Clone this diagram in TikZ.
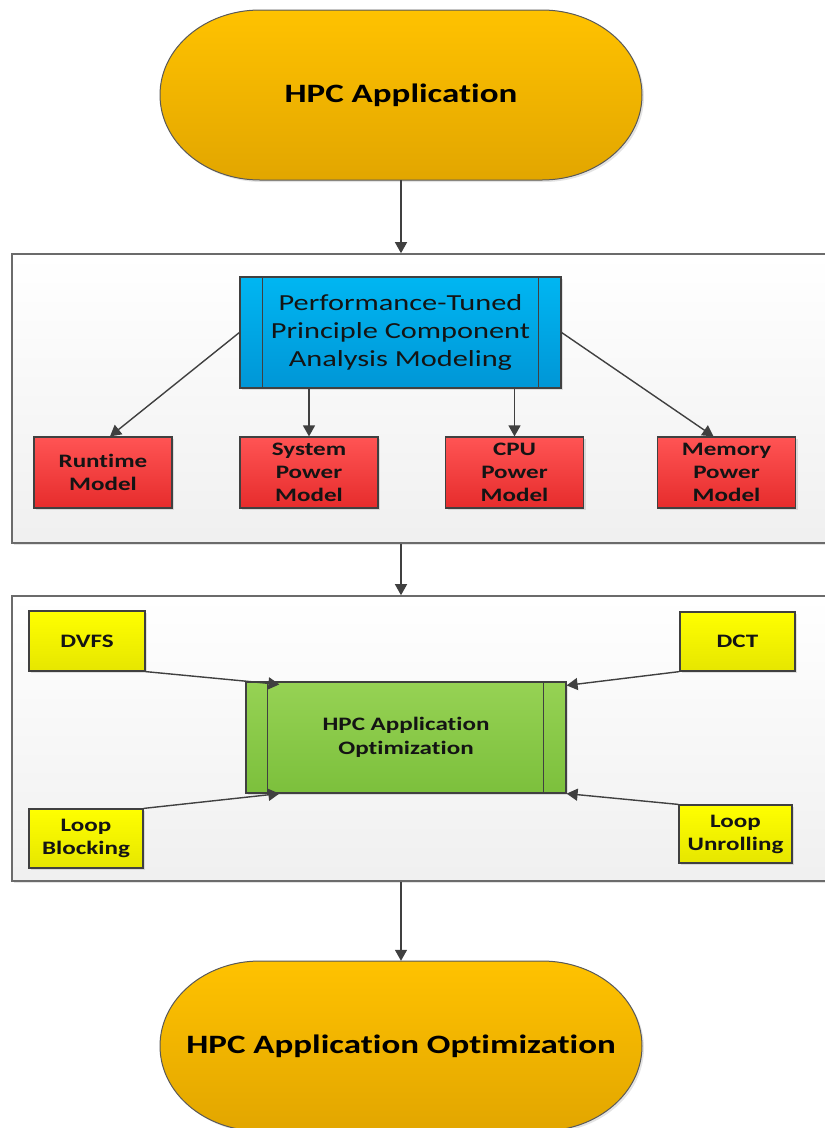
\documentclass[tikz,border=0pt]{standalone}
\usepackage{fontspec}
\setmainfont{Carlito}[FakeStretch=1.32, Ligatures={NoCommon,NoContextual}]
\usetikzlibrary{arrows.meta,shadows}

\definecolor{ambertop}{RGB}{255,194,0}
\definecolor{amberbot}{RGB}{226,166,0}
\definecolor{bluetop}{RGB}{0,182,242}
\definecolor{bluebot}{RGB}{0,150,214}
\definecolor{redtop}{RGB}{255,84,84}
\definecolor{redbot}{RGB}{230,44,44}
\definecolor{yeltop}{RGB}{255,255,0}
\definecolor{yelbot}{RGB}{230,230,0}
\definecolor{greentop}{RGB}{150,210,84}
\definecolor{greenbot}{RGB}{124,192,60}
\definecolor{edge}{RGB}{64,64,64}

\tikzset{
  softshadow/.style={drop shadow={shadow xshift=2pt,shadow yshift=-2pt,opacity=0.22}},
  frame/.style={draw=black!58, line width=1.6pt, top color=white, bottom color=black!6,
    minimum width=823pt, minimum height=#1, inner sep=0pt, softshadow},
  capsule/.style={draw=black!65, line width=1pt, top color=ambertop, bottom color=amberbot, softshadow},
  capsuletext/.style={minimum width=482pt, minimum height=170pt, inner sep=0pt,
    font=\bfseries\fontsize{26.5}{30}\selectfont},
  box/.style={draw=edge, line width=1.2pt, align=center, inner sep=0pt, text=black!92, softshadow},
  procbox/.style={box, top color=bluetop, bottom color=bluebot, minimum width=321pt, minimum height=111pt,
    font=\fontsize{23}{28}\selectfont},
  optbox/.style={box, top color=greentop, bottom color=greenbot, minimum width=320pt, minimum height=111pt,
    font=\bfseries\fontsize{19}{24}\selectfont},
  modelbox/.style={box, top color=redtop, bottom color=redbot, minimum width=138pt, minimum height=71pt,
    font=\bfseries\fontsize{19}{23}\selectfont},
  techbox/.style={box, top color=yeltop, bottom color=yelbot, minimum width=115pt, minimum height=59pt,
    font=\bfseries\fontsize{19}{23}\selectfont},
  sideline/.style={draw=edge, line width=1.2pt},
  link/.style={draw=edge, line width=1.4pt, -{Triangle[length=11pt,width=12pt]}},
}

% capsule outline with elliptical ends, centred on (#1,#2)
\newcommand\capsulepath[2]{%
  \path[capsule] (#1-141,#2-85) -- (#1+141,#2-85)
    arc[start angle=-90,end angle=90,x radius=100,y radius=85]
    -- (#1-141,#2+85)
    arc[start angle=90,end angle=270,x radius=100,y radius=85] -- cycle;}

\begin{document}
\begin{tikzpicture}[x=1pt,y=-1pt]
\path[use as bounding box] (0,0) rectangle (825,1128);
\clip (0,0) rectangle (825,1128);

% start and end capsules
\capsulepath{401}{95}
\node[capsuletext] (app) at (401,95) {HPC Application};
\capsulepath{401}{1046}
\node[capsuletext] (result) at (401,1046) {HPC Application Optimization};

% the two grouping panels
\node[frame=289pt] (panelA) at (423.5,398.5) {};
\node[frame=285pt] (panelB) at (423.5,738.5) {};

% modelling panel
\node[procbox] (pca) at (400.5,332.5) {Performance-Tuned\\Principle Component\\Analysis Modeling};
\draw[sideline] ([xshift=23pt]pca.north west) -- ([xshift=23pt]pca.south west);
\draw[sideline] ([xshift=-23pt]pca.north east) -- ([xshift=-23pt]pca.south east);

\node[modelbox] (runtime) at (103,472.5) {Runtime\\Model};
\node[modelbox] (syspow) at (309,472.5) {System\\Power\\Model};
\node[modelbox] (cpupow) at (514.5,472.5) {CPU\\Power\\Model};
\node[modelbox] (mempow) at (726.5,472.5) {Memory\\Power\\Model};

\draw[link] (pca.west) -- ([xshift=7pt]runtime.north);
\draw[link] (syspow.north |- pca.south) -- (syspow.north);
\draw[link] (cpupow.north |- pca.south) -- (cpupow.north);
\draw[link] (pca.east) -- ([xshift=-13pt]mempow.north);

% optimisation panel
\node[optbox] (opt) at (406,737.5) {HPC Application\\Optimization};
\draw[sideline] ([xshift=22pt]opt.north west) -- ([xshift=22pt]opt.south west);
\draw[sideline] ([xshift=-23pt]opt.north east) -- ([xshift=-23pt]opt.south east);

\node[techbox, minimum width=116pt, minimum height=60pt] (dvfs) at (87,641) {DVFS};
\node[techbox] (dct) at (737.5,641.5) {DCT};
\node[techbox, minimum width=114pt] (blocking) at (86,838.5) {Loop\\Blocking};
\node[techbox, minimum width=113pt, minimum height=58pt] (unrolling) at (735.5,834) {Loop\\Unrolling};

\draw[link] (dvfs.south east) -- ([xshift=34pt,yshift=-3pt]opt.north west);
\draw[link] (dct.south west) -- ([yshift=-4pt]opt.north east);
\draw[link] (blocking.north east) -- ([xshift=34pt]opt.south west);
\draw[link] (unrolling.north west) -- (opt.south east);

% main flow
\draw[link] (app.south) -- (app.south |- panelA.north);
\draw[link] (app.south |- panelA.south) -- (app.south |- panelB.north);
\draw[link] (app.south |- panelB.south) -- (result.north);
\end{tikzpicture}
\end{document}
